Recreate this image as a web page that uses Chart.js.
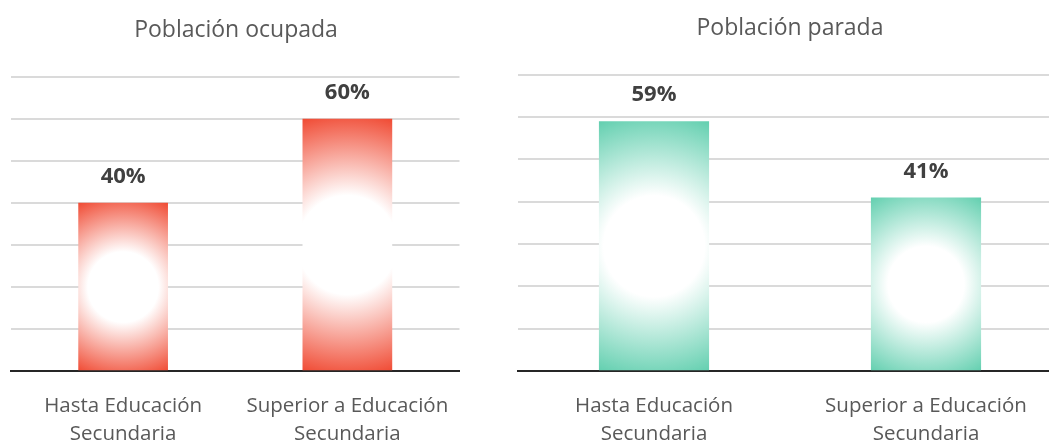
<!DOCTYPE html>
<html>
<head>
<meta charset="utf-8">
<script src="https://cdn.jsdelivr.net/npm/chart.js@4.4.0/dist/chart.umd.min.js"></script>
<style>
  html, body { margin: 0; padding: 0; background: #fff; }
  body { width: 1049px; height: 441px; overflow: hidden; position: relative; }
  canvas { position: absolute; }
</style>
</head>
<body>
<canvas id="ocupadaChart" width="472" height="469" style="left:0;top:0"></canvas>
<canvas id="paradaChart" width="566" height="471" style="left:507px;top:-2px"></canvas>
<script>
const categories = [['Hasta Educación', 'Secundaria'], ['Superior a Educación', 'Secundaria']];
const ocupadaValues = [40, 60];
const paradaValues = [59, 41];
const yMax = 70;
const yStep = 10;

const FONT = '"Open Sans", "DejaVu Sans", sans-serif';

// radial fill: white centre fading out to the bar colour at the corners
function barGradient(ctx, color, barPct) {
  const chart = ctx.chart;
  if (!chart.chartArea || ctx.type !== 'data') return color;
  const xs = chart.scales.x, ys = chart.scales.y;
  const cx = xs.getPixelForValue(ctx.dataIndex);
  const top = ys.getPixelForValue(ctx.raw);
  const base = ys.getPixelForValue(0);
  const w = xs.width / chart.data.labels.length * barPct;
  const cy = (top + base) / 2;
  const r = Math.sqrt((w / 2) * (w / 2) + ((base - top) / 2) * ((base - top) / 2));
  const g = chart.ctx.createRadialGradient(cx, cy, 0, cx, cy, r);
  g.addColorStop(0, '#ffffff');
  g.addColorStop(0.37, '#ffffff');
  g.addColorStop(1, color);
  return g;
}

const valueLabels = {
  id: 'valueLabels',
  afterDatasetsDraw(chart) {
    const ctx = chart.ctx;
    const meta = chart.getDatasetMeta(0);
    ctx.save();
    ctx.font = 'bold 22px ' + FONT;
    ctx.fillStyle = '#404040';
    ctx.textAlign = 'center';
    ctx.textBaseline = 'middle';
    meta.data.forEach((bar, i) => {
      ctx.fillText(chart.data.datasets[0].data[i] + '%', bar.x, bar.y - 26);
    });
    ctx.restore();
  }
};

function makeChart(id, title, values, color, barPct) {
  return new Chart(document.getElementById(id).getContext('2d'), {
    type: 'bar',
    data: {
      labels: categories,
      datasets: [{
        data: values,
        backgroundColor: (c) => barGradient(c, color, barPct),
        borderWidth: 0,
        categoryPercentage: 1,
        barPercentage: barPct
      }]
    },
    plugins: [valueLabels],
    options: {
      responsive: false,
      animation: false,
      layout: { padding: { left: 11, right: 11, top: 0, bottom: 0 } },
      plugins: {
        legend: { display: false },
        tooltip: { enabled: false },
        title: {
          display: true,
          text: title,
          color: '#595959',
          font: { family: FONT, size: 23, weight: 'normal', lineHeight: 1.2 },
          padding: { top: 17, bottom: 32 }
        }
      },
      scales: {
        x: {
          grid: { display: false, drawTicks: false },
          border: { display: true, color: '#262626', width: 2 },
          ticks: {
            color: '#595959',
            padding: 21,
            maxRotation: 0,
            font: { family: FONT, size: 20.5, lineHeight: 1.36 }
          }
        },
        y: {
          min: 0,
          max: yMax,
          ticks: { display: false, stepSize: yStep },
          grid: { color: '#dadada', lineWidth: 2, drawTicks: false },
          border: { display: false }
        }
      }
    }
  });
}

makeChart('ocupadaChart', 'Población ocupada', ocupadaValues, '#f04a33', 0.4);
makeChart('paradaChart', 'Población parada', paradaValues, '#62cfaf', 0.405);
</script>
</body>
</html>
